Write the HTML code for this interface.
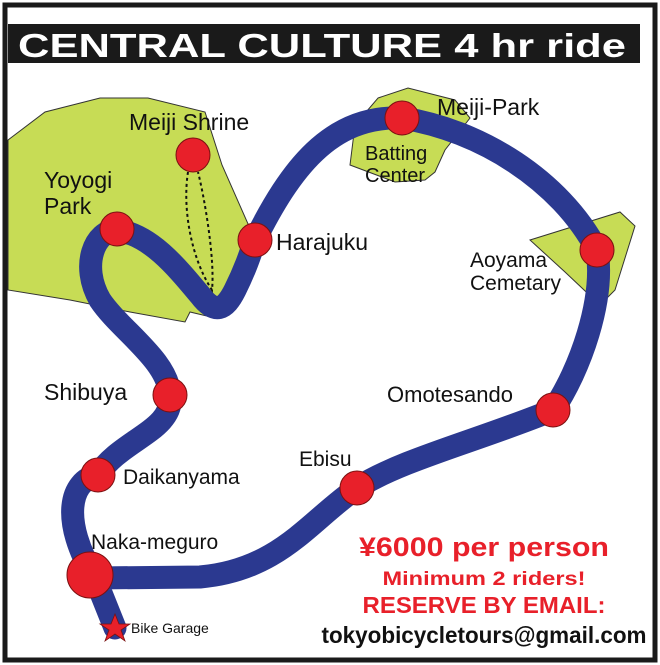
<!DOCTYPE html>
<html><head><meta charset="utf-8"><style>
html,body{margin:0;padding:0;background:#fff;}
svg{display:block;}
text{font-family:"Liberation Sans",Arial,sans-serif;}
</style></head><body>
<svg width="660" height="665" viewBox="0 0 660 665" xmlns="http://www.w3.org/2000/svg">
<rect x="0" y="0" width="660" height="665" fill="#fff"/>
<rect x="5" y="5" width="650" height="655" fill="none" stroke="#1a1a1a" stroke-width="5"/>
<rect x="8" y="24" width="632" height="39" fill="#1a1a1a"/>
<text x="18" y="57" font-size="33" font-weight="bold" fill="#fff" textLength="608" lengthAdjust="spacingAndGlyphs">CENTRAL CULTURE 4 hr ride</text>

<polygon points="8,140 45,112 100,98 148,98 205,112 222,165 256,242 235,292 215,318 190,312 185,322 130,312 70,300 8,290" fill="#c7dc55" stroke="#333" stroke-width="1"/>
<polygon points="378,98 408,88 455,100 470,118 445,150 435,172 425,180 395,182 350,165 355,125" fill="#c7dc55" stroke="#333" stroke-width="1"/>
<polygon points="530,240 620,212 635,226 615,290 600,305 565,272" fill="#c7dc55" stroke="#333" stroke-width="1"/>

<path d="M115,628 L95,578 C60,520 70,480 98,475 C120,440 175,430 170,395 C168,360 120,330 100,300 C80,265 95,230 117,230 C150,235 175,265 200,295 C215,315 225,310 235,290 C245,270 250,255 255,240 C290,170 330,115 402,118 C480,130 560,180 597,250 C605,300 580,370 553,410 C480,440 400,460 357,488 C310,520 280,570 200,577 L95,578"
 fill="none" stroke="#2b3990" stroke-width="23" stroke-linejoin="round" stroke-linecap="round"/>

<path d="M188,172 C182,210 192,260 212,290 C215,260 205,200 198,172" fill="none" stroke="#111" stroke-width="2" stroke-dasharray="3,3"/>

<g fill="#e8202a" stroke="#7a1010" stroke-width="1">
<circle cx="193" cy="155" r="17"/>
<circle cx="117" cy="229" r="17"/>
<circle cx="255" cy="240" r="17"/>
<circle cx="402" cy="118" r="17"/>
<circle cx="597" cy="250" r="17"/>
<circle cx="553" cy="410" r="17"/>
<circle cx="357" cy="488" r="17"/>
<circle cx="170" cy="395" r="17"/>
<circle cx="98" cy="475" r="17"/>
<circle cx="90" cy="575" r="23"/>
</g>
<polygon points="115,614 119,624 130,624 121,630 125,641 115,634 105,641 109,630 100,624 111,624" fill="#e8202a" stroke="#7a1010" stroke-width="0.8"/>

<g font-size="23" fill="#111">
<text x="129" y="130">Meiji Shrine</text>
<text x="44" y="188">Yoyogi</text>
<text x="44" y="214">Park</text>
<text x="276" y="250">Harajuku</text>
<text x="437" y="115">Meiji-Park</text>
<text x="470" y="267" font-size="21">Aoyama</text>
<text x="470" y="290" font-size="21">Cemetary</text>
<text x="44" y="400">Shibuya</text>
<text x="387" y="402" font-size="22">Omotesando</text>
<text x="299" y="466" font-size="21">Ebisu</text>
<text x="123" y="484" font-size="21">Daikanyama</text>
<text x="91" y="549" font-size="21">Naka-meguro</text>
</g>
<text x="365" y="160" font-size="20" fill="#111">Batting</text>
<text x="365" y="182" font-size="20" fill="#111">Center</text>
<text x="131" y="633" font-size="14" fill="#111">Bike Garage</text>

<g font-weight="bold" text-anchor="middle">
<text x="484" y="556" font-size="27" fill="#e8202a" textLength="250" lengthAdjust="spacingAndGlyphs">¥6000 per person</text>
<text x="484" y="585" font-size="19" fill="#e8202a" textLength="203" lengthAdjust="spacingAndGlyphs">Minimum 2 riders!</text>
<text x="484" y="613" font-size="23" fill="#e8202a" textLength="243" lengthAdjust="spacingAndGlyphs">RESERVE BY EMAIL:</text>
<text x="484" y="643" font-size="23" fill="#111" textLength="325" lengthAdjust="spacingAndGlyphs">tokyobicycletours@gmail.com</text>
</g>
</svg>
</body></html>
